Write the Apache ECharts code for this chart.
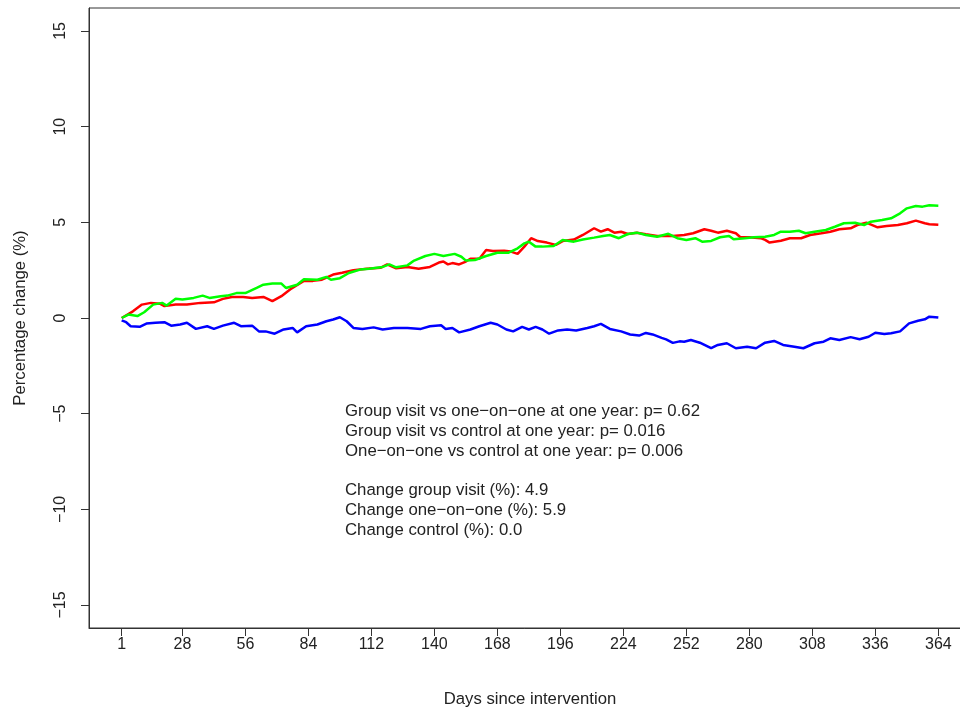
<!DOCTYPE html>
<html>
<head>
<meta charset="utf-8">
<script src="https://cdn.jsdelivr.net/npm/echarts@6/dist/echarts.min.js"></script>
<style>
html,body{margin:0;padding:0;background:#fff;}
#main{width:960px;height:707px;}
</style>
</head>
<body>
<div id="main"></div>
<script>
// tick positions
var dayTicks = [1, 28, 56, 84, 112, 140, 168, 196, 224, 252, 280, 308, 336, 364];
var pctTicks = [-15, -10, -5, 0, 5, 10, 15];

// group visit (red)
var redDays = [1,6,10,14,18,20,25,30,36,42,46,50,55,59,64,68,72,76,82,86,90,95,99,104,110,116,119,123,128,133,138,142,144,146,148,151,154,156,160,163,166,171,174,177,180,183,186,190,194,197,202,206,211,214,217,220,223,226,230,234,239,243,246,251,255,260,263,266,270,274,276,280,285,287,289,294,298,303,307,312,316,320,325,328,332,337,341,346,350,354,358,360,364];
var redVals = [0,0.35,0.7,0.79,0.75,0.62,0.7,0.7,0.79,0.82,1.0,1.1,1.1,1.05,1.1,0.88,1.14,1.5,1.94,1.94,2.0,2.27,2.36,2.5,2.57,2.62,2.8,2.6,2.67,2.57,2.67,2.9,2.95,2.8,2.87,2.8,2.95,3.1,3.1,3.55,3.5,3.52,3.47,3.35,3.73,4.17,4.02,3.94,3.82,4.02,4.1,4.34,4.69,4.51,4.64,4.46,4.51,4.39,4.46,4.38,4.29,4.29,4.29,4.34,4.43,4.64,4.56,4.46,4.56,4.43,4.22,4.22,4.17,4.08,3.94,4.04,4.17,4.17,4.34,4.43,4.51,4.64,4.69,4.86,4.98,4.74,4.81,4.86,4.95,5.09,4.95,4.9,4.87];

// one-on-one (green)
var greenDays = [1,4,8,11,15,19,21,25,28,33,37,40,45,48,52,56,61,64,68,72,74,79,82,88,92,94,98,102,107,111,117,120,123,128,131,136,140,144,149,152,154,158,163,168,173,177,180,182,185,188,193,197,202,206,211,215,218,222,226,230,234,239,244,248,252,256,259,263,267,271,273,278,282,287,291,294,298,302,305,309,314,318,322,327,331,334,339,343,347,350,354,357,360,364];
var greenVals = [0,0.18,0.1,0.3,0.7,0.79,0.65,1.0,0.97,1.05,1.17,1.05,1.14,1.17,1.3,1.3,1.57,1.74,1.8,1.8,1.57,1.74,2.02,2.0,2.15,2.0,2.08,2.35,2.53,2.57,2.67,2.8,2.65,2.75,3.0,3.24,3.35,3.24,3.35,3.2,3.0,3.03,3.24,3.41,3.41,3.64,3.9,3.99,3.73,3.73,3.76,4.08,3.99,4.1,4.2,4.29,4.34,4.17,4.39,4.46,4.34,4.25,4.4,4.17,4.08,4.17,3.99,4.03,4.22,4.29,4.11,4.17,4.22,4.25,4.34,4.51,4.51,4.56,4.43,4.51,4.6,4.77,4.95,4.98,4.86,5.03,5.12,5.21,5.47,5.73,5.85,5.82,5.89,5.87];

// control (blue)
var blueDays = [1,3,5,9,12,16,20,23,27,30,34,39,42,46,51,54,59,62,65,69,73,77,79,83,88,92,95,98,101,104,108,113,117,122,128,134,138,143,145,148,151,156,160,165,168,172,175,179,182,185,188,191,195,199,203,208,211,214,218,223,227,231,234,237,241,243,246,249,251,254,258,263,266,270,274,279,283,287,291,295,300,304,309,313,316,320,325,329,333,336,340,343,347,351,355,358,360,364];
var blueVals = [-0.12,-0.22,-0.43,-0.46,-0.29,-0.25,-0.22,-0.4,-0.34,-0.25,-0.57,-0.43,-0.57,-0.4,-0.25,-0.43,-0.4,-0.7,-0.7,-0.82,-0.6,-0.52,-0.75,-0.43,-0.34,-0.17,-0.08,0.04,-0.17,-0.52,-0.57,-0.49,-0.6,-0.52,-0.52,-0.57,-0.43,-0.38,-0.57,-0.52,-0.75,-0.6,-0.43,-0.25,-0.34,-0.6,-0.7,-0.46,-0.6,-0.46,-0.6,-0.82,-0.65,-0.6,-0.65,-0.52,-0.43,-0.31,-0.57,-0.7,-0.86,-0.92,-0.78,-0.86,-1.04,-1.12,-1.3,-1.22,-1.24,-1.15,-1.29,-1.58,-1.41,-1.32,-1.58,-1.5,-1.58,-1.29,-1.2,-1.41,-1.5,-1.58,-1.32,-1.24,-1.06,-1.15,-1.0,-1.11,-0.98,-0.77,-0.84,-0.8,-0.7,-0.28,-0.14,-0.07,0.07,0.02];

var noteLines = [
	'Group visit vs one\u2212on\u2212one at one year: p= 0.62',
	'Group visit vs control at one year: p= 0.016',
	'One\u2212on\u2212one vs control at one year: p= 0.006',
	'',
	'Change group visit (%): 4.9',
	'Change one\u2212on\u2212one (%): 5.9',
	'Change control (%): 0.0'
];

function pairs(xs, ys){
	var out = [];
	for(var i = 0; i < xs.length; i++){
		out.push([xs[i], ys[i]]);
	}
	return out;
}

var font = 'Liberation Sans';
var ink = '#222';

function lineSeries(name, color, xs, ys){
	return {
		name: name,
		type: 'line',
		showSymbol: false,
		silent: true,
		animation: false,
		lineStyle: {color: color, width: 2.5},
		data: pairs(xs, ys)
	};
}

var chart = echarts.init(document.getElementById('main'));
var option = {
	backgroundColor: '#fff',
	animation: false,
	grid: {
		left: 89, top: 8, width: 882, height: 620,
		show: true, borderColor: '#333', borderWidth: 1,
		containLabel: false,
		outerBoundsMode: 'none'
	},
	xAxis: {
		type: 'value',
		min: -13.52, max: 378.52,
		name: 'Days since intervention',
		nameLocation: 'middle',
		nameGap: 63,
		nameTextStyle: {fontFamily: font, fontSize: 16.7, color: ink},
		splitLine: {show: false},
		axisLine: {show: true, onZero: false, lineStyle: {color: '#333', width: 1}},
		axisTick: {show: true, length: 8, lineStyle: {color: '#333'}, customValues: dayTicks},
		axisLabel: {fontFamily: font, fontSize: 16, color: ink, margin: 9, customValues: dayTicks}
	},
	yAxis: {
		type: 'value',
		min: -16.2, max: 16.2,
		name: 'Percentage change (%)',
		nameLocation: 'middle',
		nameRotate: 90,
		nameGap: 60,
		nameTextStyle: {fontFamily: font, fontSize: 16.7, color: ink},
		splitLine: {show: false},
		axisLine: {show: true, onZero: false, lineStyle: {color: '#333', width: 1}},
		axisTick: {show: true, length: 8, lineStyle: {color: '#333'}, customValues: pctTicks},
		axisLabel: {
			fontFamily: font, fontSize: 16, color: ink, margin: 20, rotate: 90,
			customValues: pctTicks,
			formatter: function(v){ return String(v).replace('-', '\u2212'); }
		}
	},
	graphic: [{
		type: 'text',
		left: 345,
		top: 402,
		silent: true,
		style: {
			text: noteLines.join('\n'),
			fill: ink,
			font: '16.8px "Liberation Sans"',
			lineHeight: 19.7
		}
	}],
	series: [
		lineSeries('Control', '#0000ff', blueDays, blueVals),
		lineSeries('Group visit', '#ff0000', redDays, redVals),
		lineSeries('One-on-one', '#00ff00', greenDays, greenVals)
	]
};
chart.setOption(option);
</script>
</body>
</html>
